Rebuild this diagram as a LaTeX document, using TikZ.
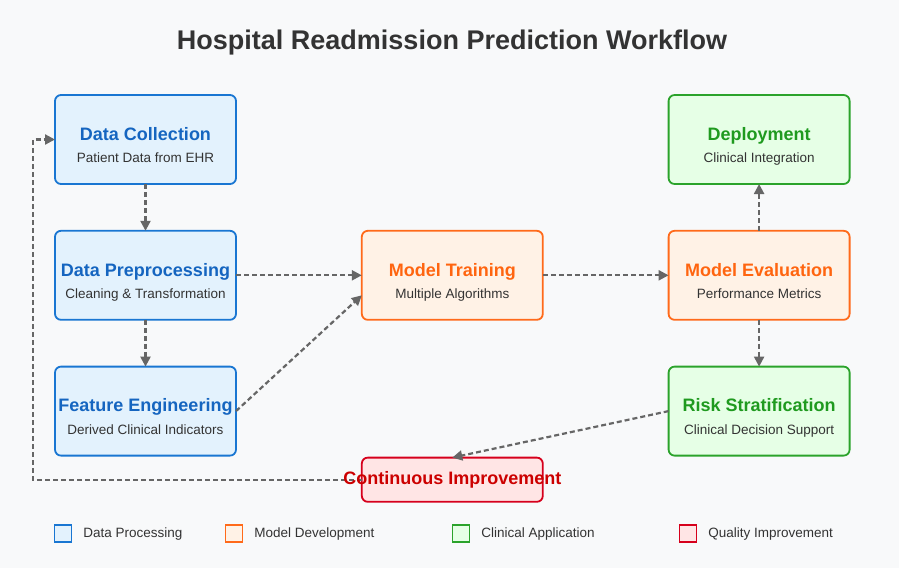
\documentclass[tikz,border=0pt]{standalone}
\usepackage{fontspec}
\setmainfont{Liberation Sans}
\usepackage{xcolor}
\usepackage{tikz}
\usetikzlibrary{arrows.meta,positioning,calc}
\definecolor{bg}{HTML}{F8F9FA}
\definecolor{ink}{HTML}{333333}
\definecolor{arrgray}{HTML}{666666}
\definecolor{dpline}{HTML}{1976D2}
\definecolor{dptext}{HTML}{1565C0}
\definecolor{dpfill}{HTML}{E3F2FD}
\definecolor{mdline}{HTML}{FF6A1A}
\definecolor{mdtext}{HTML}{FF6510}
\definecolor{mdfill}{HTML}{FFF2E6}
\definecolor{caline}{HTML}{2BA32B}
\definecolor{catext}{HTML}{1F9A1F}
\definecolor{cafill}{HTML}{E6FFE6}
\definecolor{qiline}{HTML}{D6001C}
\definecolor{qitext}{HTML}{CC0000}
\definecolor{qifill}{HTML}{FFE5E5}
\newcommand{\boxtxt}[3]{\rule{0pt}{27pt}{\fontsize{18}{18}\selectfont\bfseries\color{#1}#2}\\
  {\color{ink}#3\rule[-3pt]{0pt}{3pt}}}

\begin{document}
\begin{tikzpicture}[
    x=1pt, y=-1pt,
    box/.style={rectangle, rounded corners=6pt, line width=1.8pt,
                minimum width=181pt, minimum height=89pt, inner sep=0pt,
                outer sep=0pt, align=center,
                font=\fontsize{13.5}{22.5}\selectfont},
    dproc/.style={box, draw=dpline, fill=dpfill},
    mdev/.style={box, draw=mdline, fill=mdfill},
    clin/.style={box, draw=caline, fill=cafill},
    qual/.style={box, draw=qiline, fill=qifill, minimum height=44.2pt,
                 font=\fontsize{18}{18}\selectfont\bfseries, text=qitext},
    key/.style={rectangle, minimum size=17pt, inner sep=0pt, line width=1.3pt},
    keytxt/.style={font=\fontsize{13.5}{16}\selectfont, text=ink, inner sep=0pt},
    arr/.style={-{Triangle[length=10pt,width=10pt]}, line width=2.2pt,
                draw=arrgray, dash pattern=on 5pt off 3pt}
  ]
  \fill[bg] (0,0) rectangle (899,568);
  \node[font=\fontsize{27}{27}\selectfont\bfseries, text=ink, anchor=base]
    (ttl) at (452,49) {Hospital Readmission Prediction Workflow};

  % data processing column
  \node[dproc] (dc) at (145.5,139.5) {\boxtxt{dptext}{Data Collection}{Patient Data from EHR}};
  \node[dproc, below=46.8pt of dc] (dp) {\boxtxt{dptext}{Data Preprocessing}{Cleaning \& Transformation}};
  \node[dproc, below=46.8pt of dp] (fe) {\boxtxt{dptext}{Feature Engineering}{Derived Clinical Indicators}};

  % model development and clinical application
  \node[mdev, right=125.8pt of dp] (mt) {\boxtxt{mdtext}{Model Training}{Multiple Algorithms}};
  \node[mdev, right=125.8pt of mt] (me) {\boxtxt{mdtext}{Model Evaluation}{Performance Metrics}};
  \node[clin, above=46.8pt of me] (dep) {\boxtxt{catext}{Deployment}{Clinical Integration}};
  \node[clin, below=46.8pt of me] (rs) {\boxtxt{catext}{Risk Stratification}{Clinical Decision Support}};
  \node[qual, below=137.8pt of mt] (ci) {};

  \draw[arr] (dc) -- (dp);
  \draw[arr] (dp) -- (fe);
  \draw[arr] (dp) -- (mt);
  \draw[arr] (fe.east) -- ($(mt.west)+(0,20)$);
  \draw[arr] (mt) -- (me);
  \draw[arr] (me) -- (dep);
  \draw[arr] (me) -- (rs);
  \draw[arr] (rs.west) -- (ci.north);
  \draw[arr] (ci.west) -- ++(-329,0) |- (dc.west);
  \node[qual, draw=none, fill=none] (cit) at (ci) {\makebox[0pt]{Continuous Improvement}};

  % legend
  \node[key, draw=dpline, fill=dpfill] (kdp) at (63,533.5) {};
  \node[keytxt, right=11pt of kdp] (tdp) {Data Processing};
  \node[key, draw=mdline, fill=mdfill] (kmd) at (234,533.5) {};
  \node[keytxt, right=11pt of kmd] (tmd) {Model Development};
  \node[key, draw=caline, fill=cafill] (kca) at (461,533.5) {};
  \node[keytxt, right=11pt of kca] (tca) {Clinical Application};
  \node[key, draw=qiline, fill=qifill] (kqi) at (688,533.5) {};
  \node[keytxt, right=11pt of kqi] (tqi) {Quality Improvement};
\end{tikzpicture}
\end{document}
